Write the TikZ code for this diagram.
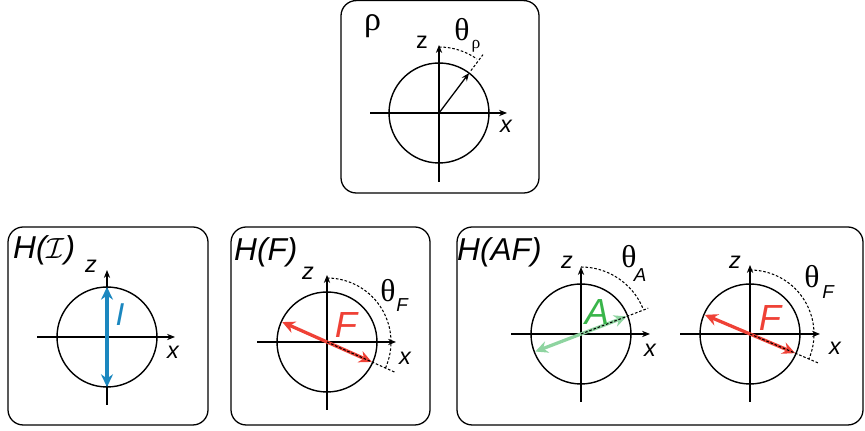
\documentclass[tikz,border=0pt]{standalone}
\usepackage{fontspec}
\setmainfont{Liberation Sans}
\newfontfamily\greekfont{Liberation Serif}
\usetikzlibrary{arrows.meta,positioning,calc}
\definecolor{spinblue}{HTML}{1B87BF}
\definecolor{spinred}{HTML}{EF4136}
\definecolor{spingreen}{HTML}{39B54A}
\definecolor{spinmint}{HTML}{8ED4A0}
\tikzset{
  % rahmen und achsen
  panel/.style={draw=black,line width=1.1pt,rounded corners=13pt},
  ring/.style={draw=black,line width=1.2pt},
  axis/.style={-{Stealth[length=2.4mm,width=1.9mm]},line width=0.9pt},
  guide/.style={draw=black,line width=0.9pt,dash pattern=on 2.2pt off 1.6pt},
  % pfeile
  vecthin/.style={-{Stealth[length=2.4mm,width=1.9mm]},line width=1.1pt},
  vecI/.style={{Stealth[length=3.8mm,width=3.6mm]}-{Stealth[length=3.8mm,width=3.6mm]},
               draw=spinblue,line width=2.8pt},
  vecF/.style={{Stealth[length=3.8mm,width=3.6mm]}-{Stealth[length=3.8mm,width=3.6mm]},
               draw=spinred,line width=2.8pt},
  vecA/.style={{Stealth[length=3.8mm,width=3.6mm]}-{Stealth[length=3.8mm,width=3.6mm]},
               draw=spinmint,line width=2.8pt},
  % texte
  title/.style={anchor=west,inner sep=0pt,font=\fontsize{27}{27}\selectfont\itshape},
  axlbl/.style={inner sep=0pt,font=\fontsize{20}{20}\selectfont\itshape},
  ang/.style={inner sep=0pt,font=\fontsize{27}{27}\selectfont\greekfont},
  angsub/.style={inner sep=0pt,font=\fontsize{16}{16}\selectfont\itshape},
  big/.style={inner sep=0pt,font=\fontsize{31}{31}\selectfont\itshape},
}
\begin{document}
\begin{tikzpicture}[x=0.03cm,y=0.03cm]
\useasboundingbox (0,0) rectangle (865,431);
  % rahmen
  \draw[panel] (341,430.4) rectangle (539,238);
  \draw[panel] (8,204) rectangle (208,6);
  \draw[panel] (231,204) rectangle (430,6);
  \draw[panel] (457,204) rectangle (863,6);
  \node[title,font=\fontsize{29}{29}\selectfont\greekfont] (trho) at (364,405) {ρ};
  \node[title] (tI) at (13,181) {H($\mathcal{I}$)};
  \node[title] (tF) at (234,179) {H(F)};
  \node[title] (tAF) at (457,179) {H(AF)};

  % rho
  \coordinate (c0) at (439,318);
  \draw[ring] (c0) circle[radius=50];
  \draw[axis] ($(c0)+(-69,0)$) -- ($(c0)+(68,0)$);
  \draw[axis] ($(c0)+(0,-69)$) -- ($(c0)+(0,68)$);
  \draw[vecthin] (c0) -- ($(c0)+(53:50)$);
  \draw[guide] ($(c0)+(90:66)$) arc[start angle=90,end angle=55,radius=66];
  \draw[guide] ($(c0)+(53:53)$) -- ($(c0)+(53:73)$);
  \node[axlbl,font=\fontsize{20}{20}\selectfont] (z0) at ($(c0)+(-17,71)$) {z};
  \node[axlbl] (x0) at ($(c0)+(67,-13)$) {x};
  \node[ang] (th0) at ($(c0)+(23,83)$) {θ};
  \node[angsub,font=\fontsize{15}{15}\selectfont\greekfont] (sub0) at ($(c0)+(37,67)$) {ρ};

  % H(I)
  \coordinate (c1) at (107,94);
  \draw[ring] (c1) circle[radius=50];
  \draw[axis] ($(c1)+(-70,0)$) -- ($(c1)+(68,0)$);
  \draw[axis] ($(c1)+(0,-68)$) -- ($(c1)+(0,67)$);
  \draw[vecI] ($(c1)+(0,-50)$) -- ($(c1)+(0,50)$);
  \node[axlbl] (z1) at ($(c1)+(-16,71)$) {z};
  \node[axlbl] (x1) at ($(c1)+(66,-15)$) {x};
  \node[big,text=spinblue,font=\fontsize{27}{27}\selectfont\itshape] (I1) at ($(c1)+(13,22)$) {I};

  % H(F)
  \coordinate (c2) at (327,89);
  \draw[ring] (c2) circle[radius=50];
  \draw[axis] ($(c2)+(-70,0)$) -- ($(c2)+(69,0)$);
  \draw[axis] ($(c2)+(0,-68)$) -- ($(c2)+(0,67)$);
  \draw[vecF] ($(c2)+(156:49)$) -- ($(c2)+(-24:49)$);
  \draw[guide] (c2) -- ($(c2)+(-24:74)$);
  \draw[guide] ($(c2)+(90:64)$) arc[start angle=90,end angle=-24,radius=64];
  \node[axlbl] (z2) at ($(c2)+(-19,69)$) {z};
  \node[axlbl] (x2) at ($(c2)+(78,-16)$) {x};
  \node[ang] (th2) at ($(c2)+(61,51)$) {θ};
  \node[angsub] (sub2) at ($(c2)+(75,37)$) {F};
  \node[big,text=spinred] (F2) at ($(c2)+(19,17)$) {F};

  % H(AF), A
  \coordinate (c3) at (581,97);
  \draw[ring] (c3) circle[radius=50];
  \draw[axis] ($(c3)+(-70,0)$) -- ($(c3)+(69,0)$);
  \draw[axis] ($(c3)+(0,-68)$) -- ($(c3)+(0,67)$);
  \draw[vecA] ($(c3)+(201:49)$) -- ($(c3)+(21:49)$);
  \draw[guide] (c3) -- ($(c3)+(21:72)$);
  \draw[guide] ($(c3)+(90:67)$) arc[start angle=90,end angle=23,radius=67];
  \node[axlbl] (z3) at ($(c3)+(-14,72)$) {z};
  \node[axlbl] (x3) at ($(c3)+(69,-16)$) {x};
  \node[ang] (th3) at ($(c3)+(48,77)$) {θ};
  \node[angsub] (sub3) at ($(c3)+(59,59)$) {A};
  \node[big,text=spingreen] (A3) at ($(c3)+(16,22)$) {A};

  % H(AF), F
  \coordinate (c4) at (750,97);
  \draw[ring] (c4) circle[radius=50];
  \draw[axis] ($(c4)+(-70,0)$) -- ($(c4)+(70,0)$);
  \draw[axis] ($(c4)+(0,-68)$) -- ($(c4)+(0,69)$);
  \draw[vecF] ($(c4)+(157:49)$) -- ($(c4)+(-23:49)$);
  \draw[guide] (c4) -- ($(c4)+(-23:75)$);
  \draw[guide] ($(c4)+(90:64)$) arc[start angle=90,end angle=-23,radius=64];
  \node[axlbl] (z4) at ($(c4)+(-15,72)$) {z};
  \node[axlbl] (x4) at ($(c4)+(85,-14)$) {x};
  \node[ang] (th4) at ($(c4)+(62,57)$) {θ};
  \node[angsub] (sub4) at ($(c4)+(78,42)$) {F};
  \node[big,text=spinred] (F4) at ($(c4)+(20,16)$) {F};
\end{tikzpicture}
\end{document}
